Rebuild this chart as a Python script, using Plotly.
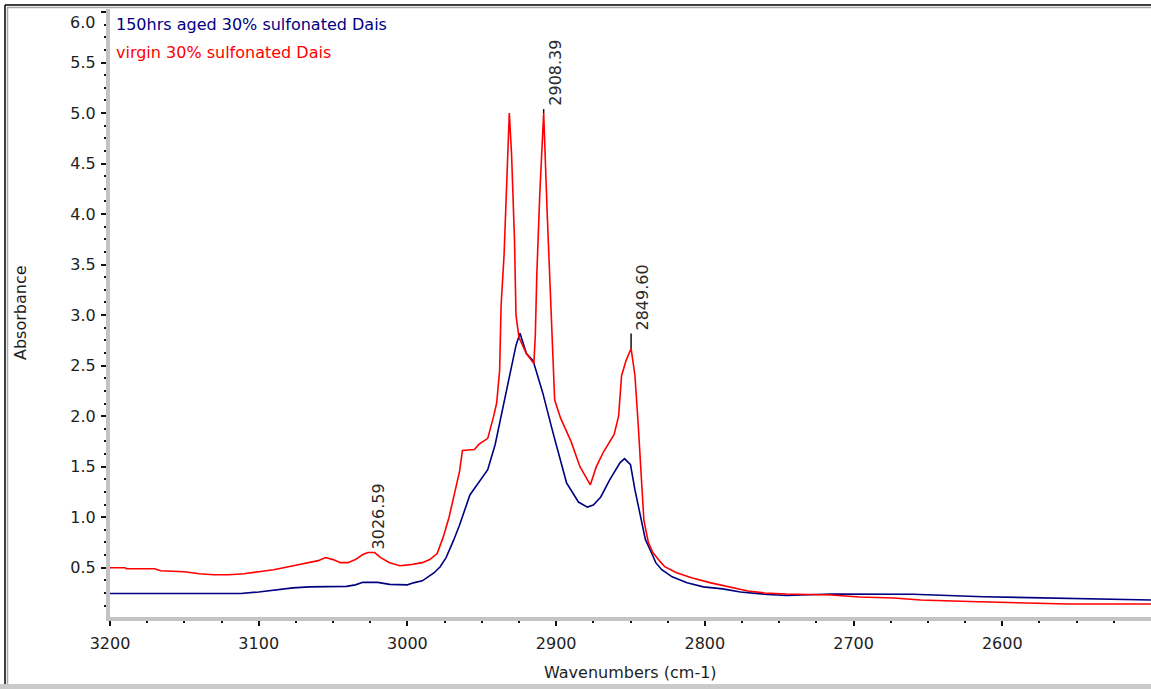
import numpy as np
import plotly.graph_objects as go

# ---- spectra (wavenumber in cm-1, absorbance) ----
wn_virgin = [3200, 3190, 3189, 3170, 3166, 3150, 3140, 3130, 3120, 3110, 3100, 3090,
             3080, 3070, 3060, 3055, 3050, 3045, 3040, 3035, 3030, 3026.59, 3022, 3018,
             3012, 3005, 2998, 2990, 2985, 2980, 2976, 2972, 2968, 2965, 2963, 2955,
             2952, 2946, 2942, 2940, 2938, 2937, 2935, 2933, 2931.5, 2930, 2928, 2927,
             2925, 2920, 2915, 2914, 2913, 2911, 2908.39, 2906, 2905, 2903, 2901, 2897,
             2890, 2884, 2880, 2877, 2873, 2868, 2861, 2858, 2856, 2853, 2849.60, 2847,
             2845, 2843, 2841, 2838, 2835, 2830, 2827, 2819, 2809, 2796, 2783, 2771,
             2760, 2745, 2715, 2696, 2673, 2655, 2622, 2585, 2556, 2500]
abs_virgin = [0.50, 0.50, 0.49, 0.49, 0.47, 0.46, 0.44, 0.43, 0.43, 0.44, 0.46, 0.48,
              0.51, 0.54, 0.57, 0.60, 0.58, 0.55, 0.55, 0.58, 0.63, 0.65, 0.65, 0.60,
              0.55, 0.52, 0.53, 0.55, 0.58, 0.64, 0.80, 1.00, 1.25, 1.45, 1.66, 1.67,
              1.72, 1.78, 2.00, 2.13, 2.45, 3.10, 3.60, 4.30, 5.00, 4.60, 3.74, 3.00,
              2.78, 2.62, 2.52, 2.80, 3.40, 4.20, 5.00, 4.00, 3.60, 2.90, 2.16, 1.98,
              1.75, 1.50, 1.40, 1.32, 1.50, 1.65, 1.82, 2.00, 2.40, 2.55, 2.67, 2.40,
              1.96, 1.40, 0.97, 0.75, 0.65, 0.56, 0.51, 0.45, 0.40, 0.35, 0.31, 0.27,
              0.25, 0.24, 0.23, 0.21, 0.20, 0.18, 0.165, 0.155, 0.14, 0.14]

wn_aged = [3200, 3112, 3100, 3090, 3077, 3066, 3041, 3035, 3030, 3020, 3012, 3000,
           2996, 2990, 2987, 2982, 2978, 2974, 2969, 2965, 2958, 2951, 2946, 2941,
           2937, 2933, 2930, 2927, 2924.3, 2920, 2915.5, 2909, 2902, 2893, 2885, 2879,
           2875, 2870, 2864, 2857, 2854, 2850, 2847, 2840, 2836, 2833, 2829, 2822,
           2812, 2801, 2788, 2776, 2758, 2745, 2715, 2660, 2613, 2567, 2500]
abs_aged = [0.245, 0.245, 0.26, 0.28, 0.30, 0.31, 0.315, 0.33, 0.355, 0.355, 0.335, 0.33,
            0.35, 0.37, 0.40, 0.45, 0.51, 0.60, 0.77, 0.92, 1.22, 1.37, 1.47, 1.72,
            2.00, 2.25, 2.49, 2.70, 2.82, 2.62, 2.55, 2.23, 1.83, 1.34, 1.15, 1.10,
            1.12, 1.20, 1.37, 1.54, 1.58, 1.52, 1.27, 0.78, 0.65, 0.55, 0.48, 0.41,
            0.35, 0.31, 0.29, 0.26, 0.235, 0.225, 0.24, 0.237, 0.213, 0.197, 0.18]

series_names = ["150hrs aged 30% sulfonated Dais", "virgin 30% sulfonated Dais"]
series_colors = ["#000080", "#ff0000"]

# labelled peaks of the virgin spectrum
peak_wn = [3026.59, 2908.39, 2849.60]
peak_abs = [0.65, 5.00, 2.67]
peak_tick_px = [0, 4, 15]          # length of the marker stub above each peak

x_major = [3200, 3100, 3000, 2900, 2800, 2700, 2600]
y_major = [0.5, 1.0, 1.5, 2.0, 2.5, 3.0, 3.5, 4.0, 4.5, 5.0, 5.5, 6.0]

# ---- page geometry ----
W, H = 1151, 689
L, R, T, B = 110, 0, 9, 72
PW, PH = W - L - R, H - T - B
FONT = "DejaVu Sans"
TXT = "#1e1e1e"
GREY = "#c3c3c3"


def fx(p):
    return (p - L) / PW


def fy(p):
    return (H - B - p) / PH


fig = go.Figure()
fig.add_trace(go.Scatter(x=wn_aged, y=abs_aged, mode="lines", name=series_names[0],
                         line=dict(color=series_colors[0], width=1.6)))
fig.add_trace(go.Scatter(x=wn_virgin, y=abs_virgin, mode="lines", name=series_names[1],
                         line=dict(color=series_colors[1], width=1.6)))

x_minor = [v for v in np.arange(2525, 3200, 25) if v % 100]
y_minor = [v for v in np.arange(0.125, 6.0, 0.125) if abs(v * 2 - round(v * 2)) > 1e-6]

fig.update_layout(
    width=W, height=H, autosize=False,
    margin=dict(l=L, r=R, t=T, b=B, pad=0),
    paper_bgcolor="white", plot_bgcolor="white",
    showlegend=False,
    font=dict(family=FONT, size=16, color=TXT),
    xaxis=dict(range=[3200, 2500], showgrid=False, zeroline=False,
               showline=True, linecolor=GREY, linewidth=4,
               ticks="outside", ticklen=5, tickwidth=2, tickcolor="#111",
               tickvals=x_major, ticktext=[str(v) for v in x_major],
               tickfont=dict(family=FONT, size=16, color=TXT),
               ticklabelstandoff=4,
               minor=dict(tickvals=x_minor, ticks="outside", ticklen=2,
                          tickwidth=2, tickcolor="#111")),
    yaxis=dict(range=[0.012, 6.03], showgrid=False, zeroline=False,
               showline=True, linecolor=GREY, linewidth=4,
               ticks="outside", ticklen=5, tickwidth=2, tickcolor="#111",
               tickvals=y_major,
               ticktext=[f"{v:.1f}" if v < 6 else "" for v in y_major],
               tickfont=dict(family=FONT, size=16, color=TXT),
               ticklabelstandoff=2,
               minor=dict(tickvals=y_minor, ticks="outside", ticklen=2,
                          tickwidth=2, tickcolor="#111")),
)

ann = []
# series captions in the top-left corner
for i, (name, col) in enumerate(zip(series_names, series_colors)):
    ann.append(dict(text=name, x=fx(114), y=fy(25 + 28 * i), xref="paper", yref="paper",
                    xanchor="left", yanchor="middle", showarrow=False,
                    font=dict(family=FONT, size=16, color=col)))
# top y label sits slightly below its tick
ann.append(dict(text=f"{y_major[-1]:.1f}", x=fx(97), y=fy(23), xref="paper", yref="paper",
                xanchor="right", yanchor="middle", showarrow=False,
                font=dict(family=FONT, size=16, color=TXT)))
# axis titles
ann.append(dict(text="Wavenumbers (cm-1)", x=fx(630), y=fy(672), xref="paper", yref="paper",
                xanchor="center", yanchor="middle", showarrow=False))
ann.append(dict(text="Absorbance", x=fx(20), y=fy(313), xref="paper", yref="paper",
                xanchor="center", yanchor="middle", showarrow=False, textangle=-90))
# peak labels
for w, a, stub in zip(peak_wn, peak_abs, peak_tick_px):
    ann.append(dict(text=f"{w:.2f}", x=w, y=a, xref="x", yref="y",
                    xanchor="center", yanchor="bottom", showarrow=False,
                    textangle=-90, xshift=11, yshift=stub + 1,
                    font=dict(family=FONT, size=16, color="#2a2a2a")))

shapes = []
for w, a, stub in zip(peak_wn, peak_abs, peak_tick_px):
    if stub:
        shapes.append(dict(type="line", xref="x", yref="y", ysizemode="pixel", yanchor=a,
                           x0=w, x1=w, y0=0, y1=stub, line=dict(color="#111", width=1.5)))

# window frame around the chart
shapes += [
    dict(type="line", xref="paper", yref="paper", x0=fx(5), x1=fx(5), y0=fy(5), y1=fy(H),
         line=dict(color="#000", width=1.5)),
    dict(type="line", xref="paper", yref="paper", x0=fx(7.5), x1=fx(7.5), y0=fy(7), y1=fy(H),
         line=dict(color="#a8a8a8", width=1.5)),
    dict(type="line", xref="paper", yref="paper", x0=fx(5), x1=fx(W), y0=fy(5), y1=fy(5),
         line=dict(color="#000", width=1.5)),
    dict(type="line", xref="paper", yref="paper", x0=fx(7), x1=fx(W), y0=fy(7.5), y1=fy(7.5),
         line=dict(color="#a8a8a8", width=1.5)),
    dict(type="rect", xref="paper", yref="paper", x0=fx(0), x1=fx(W), y0=fy(H), y1=fy(684),
         line=dict(width=0), fillcolor="#cacaca"),
]

fig.update_layout(annotations=ann, shapes=shapes)
fig.write_html("out.html")
